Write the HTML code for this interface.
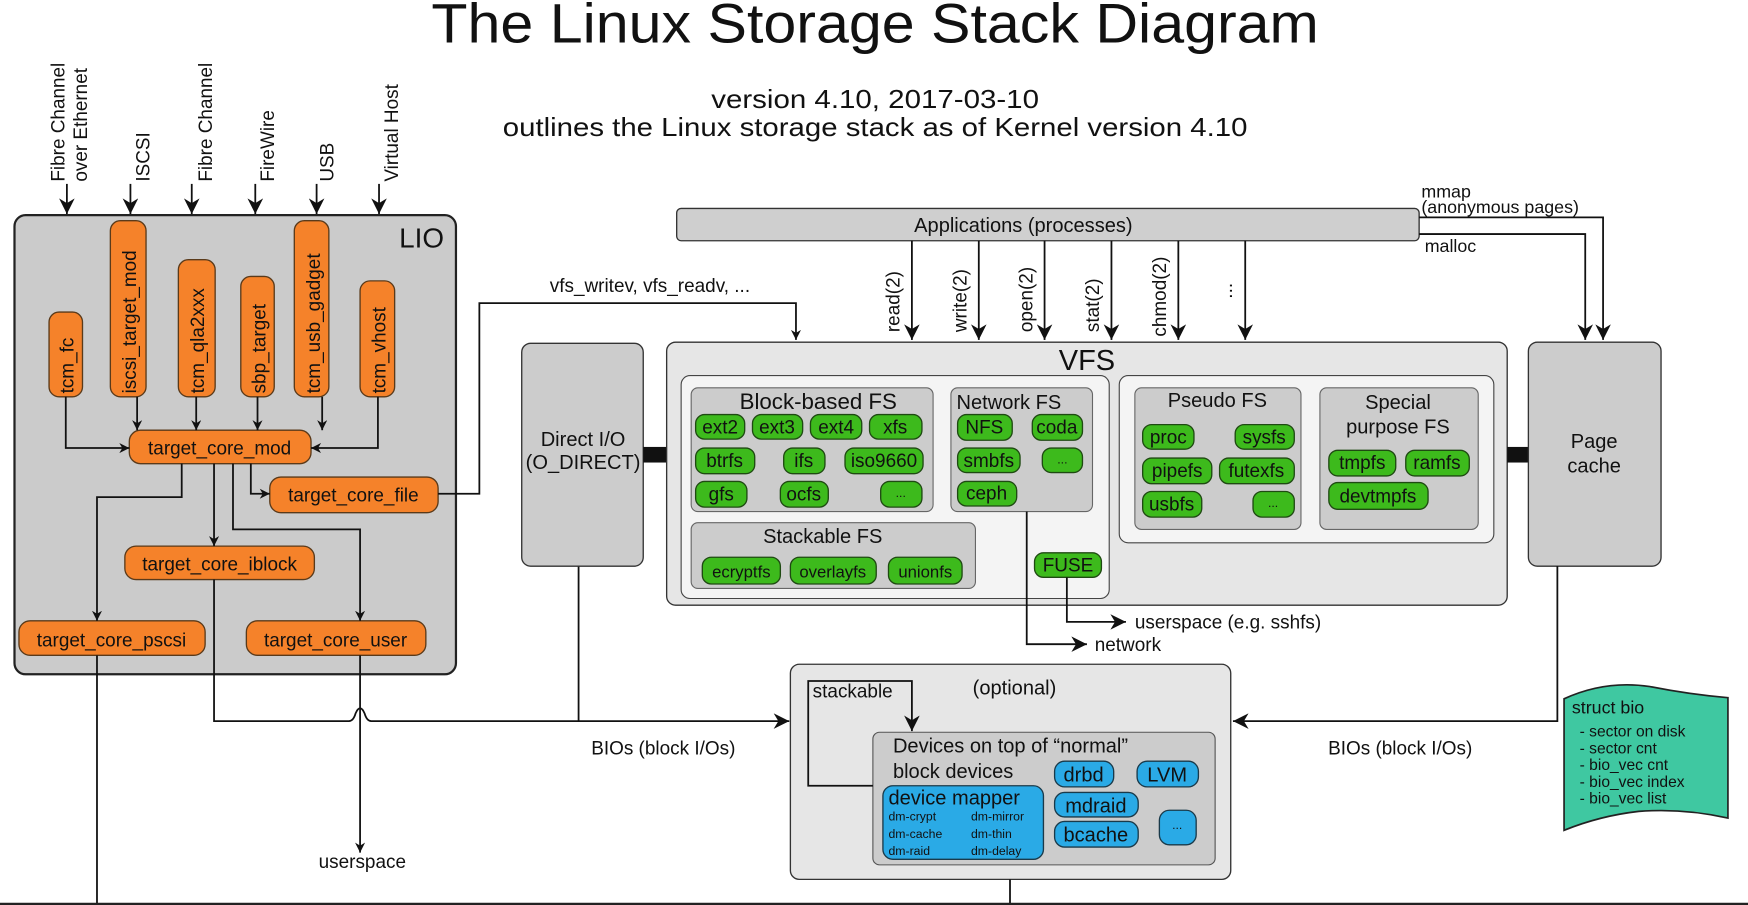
<!DOCTYPE html>
<html><head><meta charset="utf-8"><style>
html,body{margin:0;padding:0;background:#fff;}
svg{display:block;}
text{font-family:"Liberation Sans","DejaVu Sans",sans-serif;fill:#111;}
.o{fill:#f5822a;stroke:#5a3a1a;stroke-width:1.2;}
.g{fill:#3dba1c;stroke:#1f4a12;stroke-width:1.2;}
.b{fill:#2aaae6;stroke:#1a3a4a;stroke-width:1.2;}
.l{fill:none;stroke:#111;stroke-width:1.6;}
</style></head><body>
<svg width="1748" height="905" viewBox="0 0 1568 812" preserveAspectRatio="none" xmlns="http://www.w3.org/2000/svg">
<defs><marker id="a" viewBox="0 0 10 10" refX="10" refY="5" markerWidth="9" markerHeight="9" orient="auto" markerUnits="userSpaceOnUse"><path d="M0,0 L10,5 L0,10 L3,5 z" fill="#111"/></marker>
<marker id="A" viewBox="0 0 10 10" refX="10" refY="5" markerWidth="14" markerHeight="14" orient="auto" markerUnits="userSpaceOnUse"><path d="M0,0 L10,5 L0,10 L3,5 z" fill="#111"/></marker></defs>
<rect width="1568" height="812" fill="#fff"/>
<text x="785" y="38" font-size="50" text-anchor="middle" textLength="796" lengthAdjust="spacingAndGlyphs">The Linux Storage Stack Diagram</text>
<text x="785" y="97" font-size="23" text-anchor="middle" textLength="294" lengthAdjust="spacingAndGlyphs">version 4.10, 2017-03-10</text>
<text x="785" y="122" font-size="23" text-anchor="middle" textLength="668" lengthAdjust="spacingAndGlyphs">outlines the Linux storage stack as of Kernel version 4.10</text>

<!-- protocol labels -->
<g font-size="17">
<text transform="translate(58,163) rotate(-90)">Fibre Channel</text>
<text transform="translate(78,163) rotate(-90)">over Ethernet</text>
<text transform="translate(134,163) rotate(-90)">ISCSI</text>
<text transform="translate(190,163) rotate(-90)">Fibre Channel</text>
<text transform="translate(246,163) rotate(-90)">FireWire</text>
<text transform="translate(299,163) rotate(-90)">USB</text>
<text transform="translate(357,163) rotate(-90)">Virtual Host</text>
</g>
<g class="l" marker-end="url(#A)">
<path d="M60,165 V192"/><path d="M117,165 V192"/><path d="M172,165 V192"/><path d="M229,165 V192"/><path d="M284,165 V192"/><path d="M340,165 V192"/>
</g>

<!-- LIO -->
<rect x="13" y="193" width="396" height="412" rx="10" fill="#cbcbcb" stroke="#222" stroke-width="2"/>
<text x="358" y="222" font-size="25">LIO</text>
<rect class="o" x="44" y="280" width="30" height="76" rx="9"/>
<rect class="o" x="99" y="198" width="32" height="158" rx="9"/>
<rect class="o" x="160" y="233" width="33" height="123" rx="9"/>
<rect class="o" x="216" y="248" width="30" height="108" rx="9"/>
<rect class="o" x="264" y="198" width="31" height="158" rx="9"/>
<rect class="o" x="323" y="252" width="31" height="104" rx="9"/>
<g font-size="17">
<text transform="translate(66,353) rotate(-90)">tcm_fc</text>
<text transform="translate(122,353) rotate(-90)">iscsi_target_mod</text>
<text transform="translate(183,353) rotate(-90)">tcm_qla2xxx</text>
<text transform="translate(238,353) rotate(-90)">sbp_target</text>
<text transform="translate(287,353) rotate(-90)">tcm_usb_gadget</text>
<text transform="translate(346,353) rotate(-90)">tcm_vhost</text>
</g>
<rect class="o" x="116" y="386" width="163" height="30" rx="10"/>
<rect class="o" x="242" y="428" width="151" height="32" rx="10"/>
<rect class="o" x="112" y="490" width="170" height="30" rx="10"/>
<rect class="o" x="17" y="557" width="167" height="31" rx="10"/>
<rect class="o" x="221" y="557" width="161" height="31" rx="10"/>
<g font-size="17" text-anchor="middle">
<text x="197" y="408">target_core_mod</text>
<text x="317" y="450">target_core_file</text>
<text x="197" y="512">target_core_iblock</text>
<text x="100" y="580">target_core_pscsi</text>
<text x="301" y="580">target_core_user</text>
</g>
<g class="l" marker-end="url(#a)">
<path d="M59,356 V402 H116"/><path d="M339,356 V402 H279"/>
<path d="M123,356 V386"/><path d="M176,356 V386"/><path d="M231,356 V386"/><path d="M289,356 V386"/>
<path d="M163,416 V446 H87 V557"/><path d="M192,416 V490"/><path d="M209,416 V475 H323 V557"/><path d="M225,416 V443 H242"/>
<path d="M393,443 H430 V272 H714 V305"/>
<path d="M323,588 V765"/>
</g>
<text x="583" y="262" font-size="17" text-anchor="middle">vfs_writev, vfs_readv, ...</text>
<path class="l" d="M87,588 V812"/>
<path class="l" d="M192,520 V647 H313 Q317,647 319,640 Q323,631 327,640 Q329,647 333,647 H708" marker-end="url(#A)"/>
<path class="l" d="M519,508 V647"/>
<text x="325" y="779" font-size="17" text-anchor="middle">userspace</text>
<text x="595" y="677" font-size="17" text-anchor="middle">BIOs (block I/Os)</text>

<!-- Applications -->
<rect x="607" y="187" width="666" height="29" rx="4" fill="#cfcfcf" stroke="#333" stroke-width="1.2"/>
<text x="918" y="208" font-size="18" text-anchor="middle">Applications (processes)</text>
<g class="l" marker-end="url(#A)">
<path d="M818,216 V305"/><path d="M878,216 V305"/><path d="M937,216 V305"/><path d="M997,216 V305"/><path d="M1057,216 V305"/><path d="M1117,216 V305"/>
<path d="M1273,195 H1438 V305"/><path d="M1273,210 H1422 V305"/>
</g>
<g font-size="17">
<text transform="translate(807,298) rotate(-90)">read(2)</text>
<text transform="translate(867,298) rotate(-90)">write(2)</text>
<text transform="translate(926,298) rotate(-90)">open(2)</text>
<text transform="translate(986,298) rotate(-90)">stat(2)</text>
<text transform="translate(1046,302) rotate(-90)">chmod(2)</text>
<text transform="translate(1105,268) rotate(-90)">...</text>
</g>
<text x="1275" y="177" font-size="16">mmap</text>
<text x="1275" y="191" font-size="16">(anonymous pages)</text>
<text x="1278" y="226" font-size="16">malloc</text>

<!-- Direct IO -->
<rect x="468" y="308" width="109" height="200" rx="8" fill="#cccccc" stroke="#333" stroke-width="1.2"/>
<text x="523" y="400" font-size="18" text-anchor="middle">Direct I/O</text>
<text x="523" y="421" font-size="18" text-anchor="middle">(O_DIRECT)</text>
<rect x="577" y="401" width="21" height="14" fill="#111"/>

<!-- VFS -->
<rect x="598" y="307" width="754" height="236" rx="8" fill="#e6e6e6" stroke="#333" stroke-width="1.2"/>
<text x="975" y="332" font-size="26" text-anchor="middle">VFS</text>
<rect x="611" y="337" width="384" height="200" rx="8" fill="#f4f4f4" stroke="#444" stroke-width="1"/>
<rect x="1004" y="337" width="336" height="150" rx="8" fill="#f4f4f4" stroke="#444" stroke-width="1"/>
<rect x="620" y="348" width="217" height="111" rx="6" fill="#cccccc" stroke="#666"/>
<rect x="853" y="348" width="127" height="111" rx="6" fill="#cccccc" stroke="#666"/>
<rect x="620" y="469" width="255" height="59" rx="6" fill="#cccccc" stroke="#666"/>
<rect x="1018" y="348" width="149" height="127" rx="6" fill="#cccccc" stroke="#666"/>
<rect x="1184" y="348" width="142" height="127" rx="6" fill="#cccccc" stroke="#666"/>
<g text-anchor="middle">
<text x="734" y="367" font-size="20">Block-based FS</text>
<text x="905" y="367" font-size="18">Network FS</text>
<text x="738" y="487" font-size="18">Stackable FS</text>
<text x="1092" y="365" font-size="18">Pseudo FS</text>
<text x="1254" y="367" font-size="18">Special</text>
<text x="1254" y="389" font-size="18">purpose FS</text>
</g>
<g>
<rect class="g" x="624" y="372" width="44" height="22" rx="8"/><rect class="g" x="675" y="372" width="45" height="22" rx="8"/><rect class="g" x="727" y="372" width="46" height="22" rx="8"/><rect class="g" x="780" y="372" width="47" height="22" rx="8"/>
<rect class="g" x="624" y="402" width="53" height="23" rx="8"/><rect class="g" x="703" y="402" width="37" height="23" rx="8"/><rect class="g" x="758" y="402" width="70" height="23" rx="8"/>
<rect class="g" x="624" y="432" width="46" height="23" rx="8"/><rect class="g" x="700" y="432" width="43" height="23" rx="8"/><rect class="g" x="790" y="432" width="37" height="23" rx="8"/>
<rect class="g" x="859" y="372" width="49" height="23" rx="8"/><rect class="g" x="926" y="372" width="45" height="23" rx="8"/>
<rect class="g" x="859" y="402" width="56" height="22" rx="8"/><rect class="g" x="935" y="402" width="36" height="22" rx="8"/>
<rect class="g" x="859" y="432" width="53" height="22" rx="8"/>
<rect class="g" x="630" y="500" width="70" height="24" rx="8"/><rect class="g" x="709" y="500" width="77" height="24" rx="8"/><rect class="g" x="797" y="500" width="66" height="24" rx="8"/>
<rect class="g" x="928" y="496" width="60" height="22" rx="8"/>
<rect class="g" x="1025" y="381" width="46" height="22" rx="8"/><rect class="g" x="1108" y="381" width="53" height="22" rx="8"/>
<rect class="g" x="1025" y="411" width="62" height="23" rx="8"/><rect class="g" x="1094" y="411" width="67" height="23" rx="8"/>
<rect class="g" x="1025" y="441" width="53" height="23" rx="8"/><rect class="g" x="1124" y="441" width="37" height="23" rx="8"/>
<rect class="g" x="1192" y="404" width="60" height="23" rx="8"/><rect class="g" x="1261" y="404" width="57" height="23" rx="8"/>
<rect class="g" x="1192" y="433" width="89" height="24" rx="8"/>
</g>
<g font-size="17" text-anchor="middle">
<text x="646" y="389">ext2</text><text x="697" y="389">ext3</text><text x="750" y="389">ext4</text><text x="803" y="389">xfs</text>
<text x="650" y="419">btrfs</text><text x="721" y="419">ifs</text><text x="793" y="419">iso9660</text>
<text x="647" y="449">gfs</text><text x="721" y="449">ocfs</text><text x="808" y="446" font-size="11">...</text>
<text x="883" y="389">NFS</text><text x="948" y="389">coda</text>
<text x="887" y="419">smbfs</text><text x="953" y="416" font-size="11">...</text>
<text x="885" y="448">ceph</text>
<text x="665" y="518" font-size="15">ecryptfs</text><text x="747" y="518" font-size="15">overlayfs</text><text x="830" y="518" font-size="15">unionfs</text>
<text x="958" y="513">FUSE</text>
<text x="1048" y="398">proc</text><text x="1134" y="398">sysfs</text>
<text x="1056" y="428">pipefs</text><text x="1127" y="428">futexfs</text>
<text x="1051" y="458">usbfs</text><text x="1142" y="455" font-size="11">...</text>
<text x="1222" y="421">tmpfs</text><text x="1289" y="421">ramfs</text>
<text x="1236" y="451">devtmpfs</text>
</g>
<rect x="1352" y="401" width="19" height="14" fill="#111"/>
<rect x="1371" y="307" width="119" height="201" rx="8" fill="#cccccc" stroke="#333" stroke-width="1.2"/>
<text x="1430" y="402" font-size="18" text-anchor="middle">Page</text>
<text x="1430" y="424" font-size="18" text-anchor="middle">cache</text>

<g class="l" marker-end="url(#A)">
<path d="M921,459 V578 H975"/><path d="M957,518 V558 H1010"/>
<path d="M1397,508 V647 H1106"/>
</g>
<text x="982" y="584" font-size="17">network</text>
<text x="1018" y="564" font-size="17">userspace (e.g. sshfs)</text>
<text x="1256" y="677" font-size="17" text-anchor="middle">BIOs (block I/Os)</text>

<!-- optional -->
<rect x="709" y="596" width="395" height="193" rx="8" fill="#e6e6e6" stroke="#333" stroke-width="1.2"/>
<text x="910" y="623" font-size="18" text-anchor="middle">(optional)</text>
<text x="729" y="626" font-size="17">stackable</text>
<rect x="783" y="657" width="307" height="119" rx="6" fill="#cccccc" stroke="#555"/>
<path class="l" d="M783,705 H725 V611 H818 V656" marker-end="url(#A)"/>
<text x="801" y="675" font-size="18">Devices on top of “normal”</text>
<text x="801" y="698" font-size="18">block devices</text>
<rect class="b" x="792" y="705" width="144" height="66" rx="9"/>
<text x="797" y="722" font-size="18">device mapper</text>
<g font-size="11"><text x="797" y="736">dm-crypt</text><text x="871" y="736">dm-mirror</text>
<text x="797" y="752">dm-cache</text><text x="871" y="752">dm-thin</text>
<text x="797" y="767">dm-raid</text><text x="871" y="767">dm-delay</text></g>
<rect class="b" x="946" y="683" width="53" height="23" rx="9"/><rect class="b" x="1020" y="683" width="55" height="23" rx="9"/>
<rect class="b" x="946" y="711" width="75" height="22" rx="9"/><rect class="b" x="946" y="737" width="75" height="23" rx="9"/>
<rect class="b" x="1040" y="727" width="33" height="31" rx="9"/>
<g font-size="18" text-anchor="middle"><text x="972" y="701">drbd</text><text x="1047" y="701">LVM</text><text x="983" y="729">mdraid</text><text x="983" y="755">bcache</text><text x="1056" y="744" font-size="11">...</text></g>
<path class="l" d="M906,789 V812"/>
<path d="M0,811 H1568" stroke="#222" stroke-width="2"/>

<!-- struct bio -->
<path d="M1403,627 Q1440,610 1480,616 Q1515,623 1550,626 V734 Q1510,725 1470,728 Q1435,732 1403,745 Z" fill="#3fc8a1" stroke="#222" stroke-width="1.5"/>
<text x="1410" y="640" font-size="16">struct bio</text>
<g font-size="14"><text x="1417" y="661">- sector on disk</text><text x="1417" y="676">- sector cnt</text><text x="1417" y="691">- bio_vec cnt</text><text x="1417" y="706">- bio_vec index</text><text x="1417" y="721">- bio_vec list</text></g>
</svg>
</body></html>
